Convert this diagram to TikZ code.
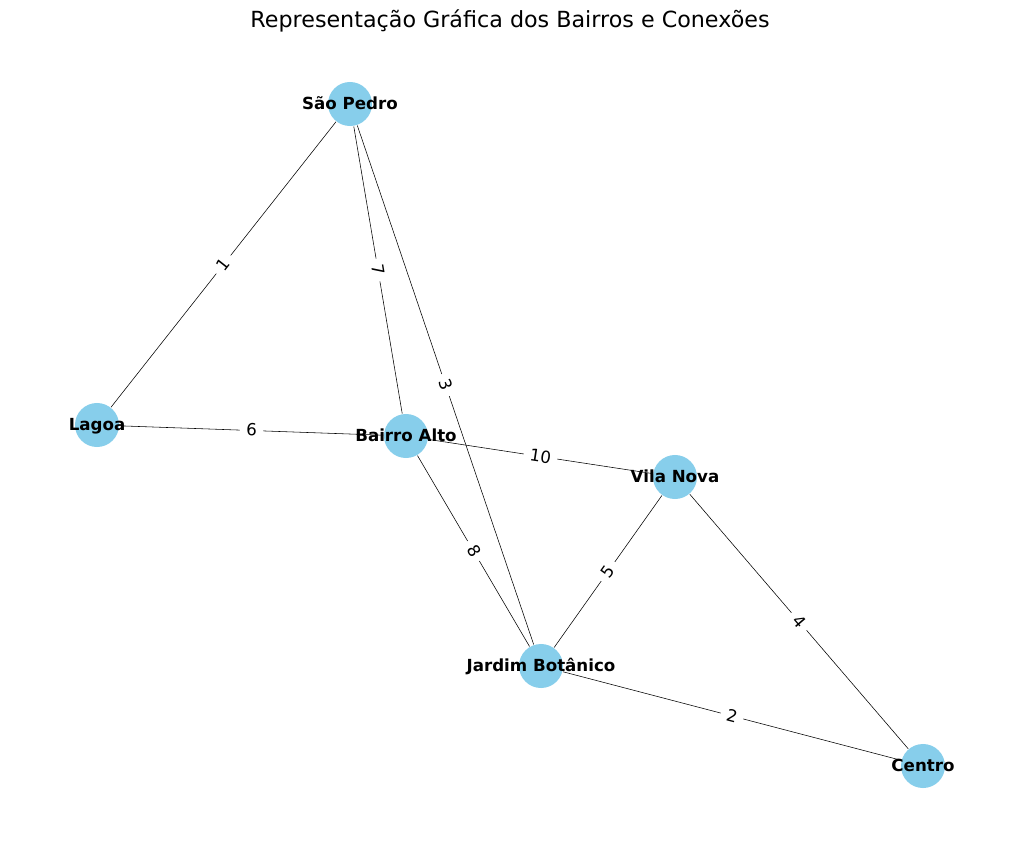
\documentclass[tikz,border=0pt]{standalone}
\usepackage{fontspec}
\setmainfont{DejaVu Sans}
\usetikzlibrary{backgrounds}
\definecolor{skyblue}{RGB}{135,206,235}

\begin{document}
\begin{tikzpicture}[x=0.72pt,y=-0.72pt,line width=1pt,
  bairro/.style={circle,fill=skyblue,minimum size=31.7pt,inner sep=0pt},
  nome/.style={font=\bfseries\fontsize{12pt}{14pt}\selectfont,inner sep=0pt,text height=8pt,text depth=0pt},
  peso/.style={sloped,fill=white,rounded corners=3pt,inner xsep=4.5pt,inner ysep=2pt,
    font=\fontsize{12pt}{14pt}\selectfont,text height=8pt,text depth=0pt}]
\useasboundingbox (0,0) rectangle (1019,845);
\node[font=\fontsize{16pt}{19pt}\selectfont,anchor=base] (titulo) at (510,27.3) {Representação Gráfica dos Bairros e Conexões};
% bairros
\node[bairro,label={[nome]center:São Pedro}] (SP) at (350,104) {};
\node[bairro,label={[nome]center:Lagoa}] (LG) at (97,425) {};
\node[bairro,label={[nome]center:Bairro Alto}] (BA) at (406,436) {};
\node[bairro,label={[nome]center:Vila Nova}] (VN) at (675,477) {};
\node[bairro,label={[nome]center:Jardim Botânico}] (JB) at (541,666) {};
\node[bairro,label={[nome]center:Centro}] (CT) at (923,766) {};
% conexoes
\begin{scope}[on background layer]
\draw (SP) -- node[peso] {1} (LG);
\draw (SP) -- node[peso] {7} (BA);
\draw (SP) -- node[peso] {3} (JB);
\draw (LG) -- node[peso] {6} (BA);
\draw (BA) -- node[peso] {10} (VN);
\draw (BA) -- node[peso] {8} (JB);
\draw (VN) -- node[peso] {5} (JB);
\draw (VN) -- node[peso] {4} (CT);
\draw (JB) -- node[peso] {2} (CT);
\end{scope}
\end{tikzpicture}
\end{document}
